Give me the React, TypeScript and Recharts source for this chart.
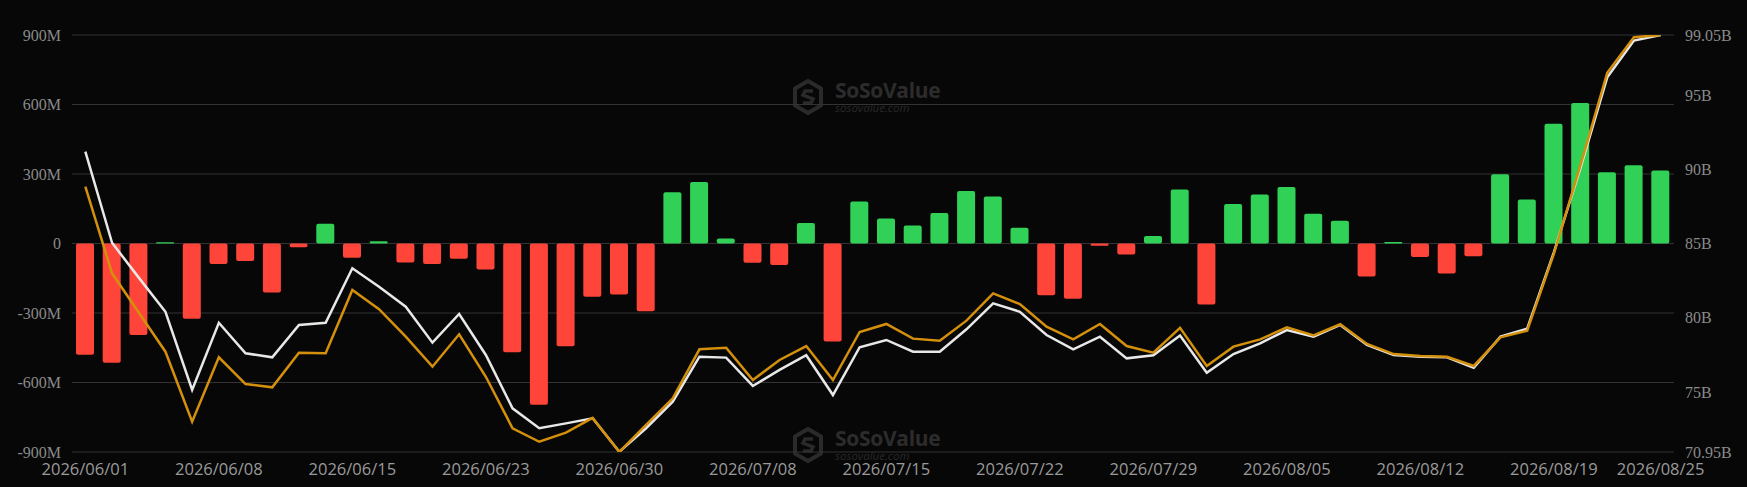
import React from 'react';
import { ComposedChart, Bar, Line, XAxis, YAxis, CartesianGrid, Cell } from 'recharts';

const dates: string[] = [
  '2026/06/01','2026/06/02','2026/06/03','2026/06/04','2026/06/05',
  '2026/06/08','2026/06/09','2026/06/10','2026/06/11','2026/06/12',
  '2026/06/15','2026/06/16','2026/06/17','2026/06/18','2026/06/22',
  '2026/06/23','2026/06/24','2026/06/25','2026/06/26','2026/06/29',
  '2026/06/30','2026/07/01','2026/07/02','2026/07/06','2026/07/07',
  '2026/07/08','2026/07/09','2026/07/10','2026/07/13','2026/07/14',
  '2026/07/15','2026/07/16','2026/07/17','2026/07/20','2026/07/21',
  '2026/07/22','2026/07/23','2026/07/24','2026/07/27','2026/07/28',
  '2026/07/29','2026/07/30','2026/07/31','2026/08/03','2026/08/04',
  '2026/08/05','2026/08/06','2026/08/07','2026/08/10','2026/08/11',
  '2026/08/12','2026/08/13','2026/08/14','2026/08/17','2026/08/18',
  '2026/08/19','2026/08/20','2026/08/21','2026/08/24','2026/08/25',
];

// Daily net inflow (M USD)
const netInflow: number[] = [
  -480, -515, -395, 5, -325,
  -89, -76, -211, -16, 85,
  -62, 10, -82, -89, -66,
  -112, -469, -696, -444, -230,
  -220, -292, 221, 266, 22,
  -83, -93, 89, -423, 181,
  108, 78, 132, 227, 203,
  68, -223, -239, -10, -47,
  32, 233, -263, 171, 211,
  244, 128, 98, -142, 7,
  -58, -129, -55, 299, 190,
  517, 607, 308, 338, 315,
];

// Total net assets (B USD)
const totalAssets: number[] = [
  91.19, 85.05, 82.7, 80.4, 75.13,
  79.66, 77.6, 77.33, 79.51, 79.66,
  83.33, 82.09, 80.74, 78.32, 80.25,
  77.49, 73.89, 72.55, 72.88, 73.22,
  70.97, 72.55, 74.34, 77.37, 77.31,
  75.4, 76.48, 77.47, 74.79, 78.01,
  78.5, 77.71, 77.71, 79.22, 80.97,
  80.4, 78.83, 77.87, 78.72, 77.26,
  77.47, 78.8, 76.29, 77.55, 78.27,
  79.17, 78.72, 79.51, 78.16, 77.49,
  77.37, 77.33, 76.63, 78.72, 79.26,
  84.4, 90.1, 96.2, 98.67, 99.05,
];

// Second series (B)
const secondSeries: number[] = [
  88.83, 82.99, 80.35, 77.71, 72.99,
  77.33, 75.53, 75.31, 77.64, 77.6,
  81.87, 80.57, 78.72, 76.7, 78.88,
  76.02, 72.55, 71.64, 72.25, 73.25,
  70.95, 72.77, 74.57, 77.87, 77.98,
  75.8, 77.15, 78.09, 75.8, 79.04,
  79.58, 78.59, 78.45, 79.8, 81.64,
  80.92, 79.39, 78.54, 79.58, 78.09,
  77.64, 79.32, 76.75, 78.05, 78.54,
  79.35, 78.81, 79.56, 78.23, 77.55,
  77.42, 77.37, 76.75, 78.68, 79.12,
  84.3, 90.3, 96.5, 98.9, 99.05,
];

const xTickLabels: string[] = [
  '2026/06/01','2026/06/08','2026/06/15','2026/06/23','2026/06/30',
  '2026/07/08','2026/07/15','2026/07/22','2026/07/29','2026/08/05',
  '2026/08/12','2026/08/19','2026/08/25',
];
const leftTicks: number[] = [-900, -600, -300, 0, 300, 600, 900];
const rightTicks: number[] = [70.95, 75, 80, 85, 90, 95, 99.05];

const data = dates.map((d, i) => ({
  date: d,
  flow: netInflow[i],
  total: totalAssets[i],
  second: secondSeries[i],
}));

const labelSet = new Set(xTickLabels);

const XTick = (props: any) => {
  const { x, y, payload } = props;
  if (!labelSet.has(payload.value)) return null;
  return (
    <text x={x} y={y} dy={15} textAnchor="middle" fill="#9a9a9a" fontSize={16.5} fontFamily="'Open Sans', 'Noto Sans', sans-serif">
      {payload.value}
    </text>
  );
};

const Watermark = ({ left, top }: { left: number; top: number }) => (
  <div style={{ position: 'absolute', left, top, display: 'flex', alignItems: 'center', zIndex: 0 }}>
    <svg width={32} height={36} viewBox="0 0 32 36">
      <polygon points="16,2 29,9.5 29,26.5 16,34 3,26.5 3,9.5" fill="none" stroke="#2a2a2a" strokeWidth={4} strokeLinejoin="round" />
      <path d="M21,12 L13,12 L11,16 L21,20 L19,24 L11,24" fill="none" stroke="#2a2a2a" strokeWidth={3.5} />
    </svg>
    <div style={{ marginLeft: 11, display: 'flex', flexDirection: 'column' }}>
      <span style={{ display: 'block', height: 20, lineHeight: '20px', fontFamily: "'Open Sans', sans-serif", fontWeight: 700, fontSize: 21, color: '#2c2c2c', letterSpacing: -0.3 }}>SoSoValue</span>
      <span style={{ display: 'block', height: 12, lineHeight: '12px', fontFamily: "'Open Sans', sans-serif", fontSize: 11.5, color: '#292929', fontStyle: 'italic', marginTop: 2 }}>sosovalue.com</span>
    </div>
  </div>
);

export default function App() {
  return (
    <div style={{ position: 'fixed', left: 0, top: 0, width: 1747, height: 487, background: '#070707', overflow: 'hidden' }}>
      <Watermark left={792} top={79} />
      <Watermark left={792} top={427} />
      <div style={{ position: 'absolute', left: 0, top: 0, zIndex: 1 }}>
        <ComposedChart width={1747} height={487} data={data} margin={{ top: 35, right: 0, bottom: 0, left: 0 }}>
          <CartesianGrid yAxisId="left" vertical={false} stroke="#333333" strokeWidth={1.2} />
          <XAxis
            dataKey="date"
            height={35}
            axisLine={false}
            tickLine={false}
            interval={0}
            tick={<XTick />}
          />
          <YAxis
            yAxisId="left"
            orientation="left"
            width={72}
            domain={[-900, 900]}
            ticks={leftTicks}
            axisLine={false}
            tickLine={false}
            tickMargin={5}
            tickFormatter={(v: number) => (v === 0 ? '0' : `${v}M`)}
            tick={{ fill: '#8a8a8a', fontSize: 16, fontFamily: 'Liberation Serif, Times New Roman, serif' }}
          />
          <YAxis
            yAxisId="right"
            orientation="right"
            width={73}
            domain={[70.95, 99.05]}
            ticks={rightTicks}
            allowDataOverflow
            axisLine={false}
            tickLine={false}
            tickMargin={5}
            tickFormatter={(v: number) => `${v}B`}
            tick={{ fill: '#8a8a8a', fontSize: 16, fontFamily: 'Liberation Serif, Times New Roman, serif' }}
          />
          <Bar yAxisId="left" dataKey="flow" barSize={18} radius={2} isAnimationActive={false}>
            {data.map((d, i) => (
              <Cell key={i} fill={d.flow >= 0 ? '#31d158' : '#ff453a'} />
            ))}
          </Bar>
          <Line yAxisId="right" type="linear" dataKey="total" stroke="#e8e8e8" strokeWidth={2.5} dot={false} activeDot={false} isAnimationActive={false} />
          <Line yAxisId="right" type="linear" dataKey="second" stroke="#d4900b" strokeWidth={2.5} dot={false} activeDot={false} isAnimationActive={false} />
        </ComposedChart>
      </div>
    </div>
  );
}
